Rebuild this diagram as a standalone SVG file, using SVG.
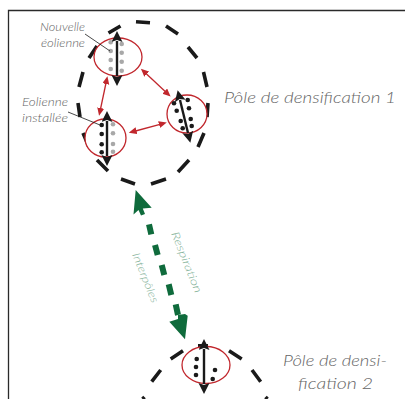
<svg xmlns="http://www.w3.org/2000/svg" width="405" height="399" viewBox="0 0 405 399">
<style>
.dash{stroke:#1a1a1a;stroke-width:3.6;fill:none}
.rotor{fill:#fff;stroke:#c1272d;stroke-width:1.3}
.tower{stroke:#1a1a1a;stroke-width:2.4;fill:none;marker-start:url(#bk);marker-end:url(#bk)}
.link{stroke:#c1272d;stroke-width:1.3;fill:none;marker-start:url(#rd);marker-end:url(#rd)}
.lead{stroke:#1a1a1a;stroke-width:.8;fill:none}
.b{fill:#1a1a1a}.g{fill:#a8a8a8}
.gd{stroke:#0f6b3c;stroke-width:6;fill:none}
.gh{fill:#0f6b3c}
text{font-family:"Lato","Liberation Sans",sans-serif;font-style:italic;font-weight:300;fill:#666}
.s{font-size:11px}.l{font-size:15px}.t{font-size:11px;fill:#7fb096}
</style>
<defs>
<marker id="bk" markerUnits="userSpaceOnUse" markerWidth="12" markerHeight="12" refX="1" refY="5.5" orient="auto-start-reverse"><path d="M0 0L11 5.5L0 11L2 5.5Z" fill="#1a1a1a"/></marker>
<marker id="rd" markerUnits="userSpaceOnUse" markerWidth="9" markerHeight="8" refX="1" refY="3.5" orient="auto-start-reverse"><path d="M0 0L8 3.5L0 7Z" fill="#c1272d"/></marker>
</defs>
<path d="M8.5 399V10.5H405" fill="none" stroke="#2a2a2a" stroke-width="1.3"/>
<g id="pole1">
<path class="dash" d="M108.500 33L120.500 26M136 21.700L150 22.700M166 26L178 34M188 47L197 58M203.500 72L207 87M208 103L207 117M204 133L198 147M189 160L178 172M166 179L151 184M135 184L121 179M108 171L97 160M89 147L83 133M80 117L78 103M79 87L83 72M89 58L97 46"/>
<text class="l" x="224" y="102.500" textLength="172" lengthAdjust="spacingAndGlyphs">Pôle de densification 1</text>
</g>
<g id="turbine-top">
<ellipse class="rotor" cx="118" cy="57" rx="24" ry="19"/>
<g class="g"><circle cx="110.700" cy="42.300" r="2.300"/><circle cx="110.700" cy="51" r="2.300"/><circle cx="110.700" cy="60" r="2.300"/><circle cx="110.700" cy="69" r="2.300"/><circle cx="121.700" cy="44" r="2.300"/><circle cx="121.700" cy="52.700" r="2.300"/><circle cx="121.700" cy="61.700" r="2.300"/><circle cx="121.700" cy="70.700" r="2.300"/></g>
<path class="tower" d="M117 41V76"/>
</g>
<g id="turbine-left">
<ellipse class="rotor" cx="105.500" cy="138" rx="20.500" ry="19"/>
<g class="b"><circle cx="101.700" cy="125" r="2.300"/><circle cx="101.700" cy="134" r="2.300"/><circle cx="101.700" cy="144.300" r="2.300"/><circle cx="101.700" cy="152.300" r="2.300"/></g>
<g class="g"><circle cx="113" cy="124.300" r="2.300"/><circle cx="113" cy="133.300" r="2.300"/><circle cx="113" cy="144" r="2.300"/><circle cx="113" cy="151.700" r="2.300"/></g>
<path class="tower" d="M107 121V156"/>
</g>
<g id="turbine-right">
<ellipse class="rotor" cx="187" cy="114" rx="20" ry="19"/>
<g class="b"><circle cx="174" cy="103.300" r="2.300"/><circle cx="187.700" cy="100" r="2.300"/><circle cx="176.700" cy="110.700" r="2.300"/><circle cx="189" cy="108.300" r="2.300"/><circle cx="180.700" cy="121" r="2.300"/><circle cx="190.700" cy="119" r="2.300"/><circle cx="182.700" cy="128.300" r="2.300"/><circle cx="191.700" cy="126" r="2.300"/></g>
<path class="tower" d="M180 100L188 133"/>
</g>
<g id="connectors">
<path class="link" d="M106 83L100.500 109"/>
<path class="link" d="M146 73.500L165.500 91.800"/>
<path class="link" d="M135.500 131L160 124.300"/>
<path class="lead" d="M85 34L110 51"/>
<path class="lead" d="M68 112L100 125"/>
<path class="gd" d="M149 224.300L151.300 234.300M155 245L157.700 255M161.700 265L164.300 275M168.700 284.300L171.300 295M175.700 304.300L178 315"/>
<path class="gh" d="M135.700 190L151.700 207.700L142.800 208.500L145 214L141 215.500L138.500 210L133.500 214.500Z"/>
<path class="gh" d="M185 339.300L169.300 321.700L178 319L178 315L185 314L187.700 315.700Z"/>
</g>
<g id="pole2">
<path class="dash" d="M198 345.700H208M229 350.700L241.700 359M252 370L260.700 381.700M170.700 359L183 350.700M151.700 381.700L160.700 370M265.500 397L267.500 399M144.500 397L142.500 399"/>
<ellipse class="rotor" cx="206" cy="365" rx="24" ry="18.500"/>
<g class="b"><circle cx="196.700" cy="359" r="2.300"/><circle cx="196" cy="367" r="2.300"/><circle cx="196" cy="375" r="2.300"/><circle cx="215" cy="370" r="2.300"/><circle cx="212.700" cy="379" r="2.300"/></g>
<path class="tower" d="M204 349V384"/>
<text class="l" x="283" y="366" textLength="104" lengthAdjust="spacingAndGlyphs">Pôle de densi-</text>
<text class="l" x="298" y="389" textLength="75" lengthAdjust="spacingAndGlyphs">fication 2</text>
</g>
<text class="s" x="40" y="31" textLength="45" lengthAdjust="spacingAndGlyphs">Nouvelle</text>
<text class="s" x="41" y="47" textLength="44" lengthAdjust="spacingAndGlyphs">éolienne</text>
<text class="s" x="22" y="106" textLength="46" lengthAdjust="spacingAndGlyphs">Eolienne</text>
<text class="s" x="22" y="122" textLength="46" lengthAdjust="spacingAndGlyphs">installée</text>
<text class="t" transform="translate(171 233.500) rotate(68)" textLength="65" lengthAdjust="spacingAndGlyphs">Respiration</text>
<text class="t" transform="translate(132 254.500) rotate(68)" textLength="53" lengthAdjust="spacingAndGlyphs">Interpôles</text>
</svg>
